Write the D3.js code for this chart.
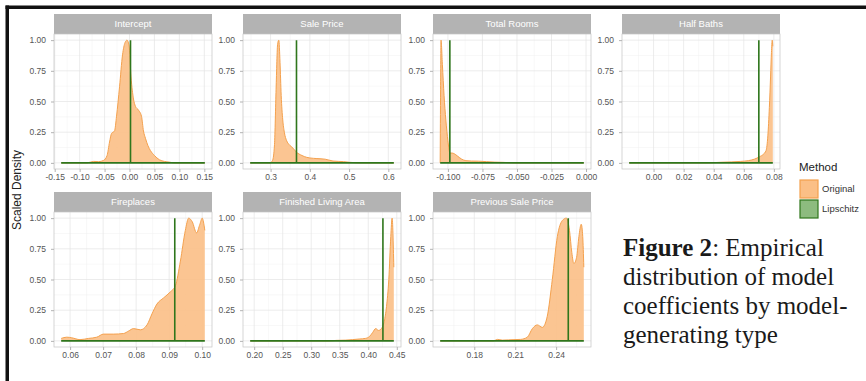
<!DOCTYPE html>
<html>
<head>
<meta charset="utf-8">
<script src="https://cdn.jsdelivr.net/npm/d3@7"></script>
<style>
  body { margin: 0; background: #fff; }
  .sans { font-family: "Liberation Sans", Arial, sans-serif; }
  .serif { font-family: "Liberation Serif", "Times New Roman", serif; }
</style>
</head>
<body>
<svg id="chart" width="866" height="381"></svg>
<script>
// ---- data ----
const panelNames = ["Intercept", "Sale Price", "Total Rooms", "Half Baths",
                    "Fireplaces", "Finished Living Area", "Previous Sale Price"];

// scaled density of the "Original" coefficients, one x/y pair per panel
const interceptX = [-0.137, -0.085, -0.072, -0.062, -0.052, -0.045, -0.040, -0.036, -0.030, -0.026, -0.020, -0.014, -0.009, -0.005, -0.001, 0.003, 0.008, 0.012, 0.018, 0.024, 0.028, 0.032, 0.037, 0.042, 0.050, 0.060, 0.070, 0.080, 0.090, 0.151];
const interceptY = [0, 0, 0.012, 0.01, 0.02, 0.06, 0.17, 0.24, 0.26, 0.38, 0.62, 0.88, 0.98, 1.0, 0.96, 0.7, 0.52, 0.46, 0.43, 0.38, 0.26, 0.2, 0.14, 0.1, 0.06, 0.025, 0.012, 0.006, 0, 0];

const salePriceX = [0.248, 0.298, 0.305, 0.310, 0.314, 0.318, 0.321, 0.324, 0.327, 0.331, 0.335, 0.341, 0.347, 0.357, 0.365, 0.380, 0.392, 0.400, 0.418, 0.439, 0.459, 0.486, 0.500, 0.530, 0.614];
const salePriceY = [0, 0, 0.02, 0.15, 0.6, 0.97, 1.0, 0.82, 0.55, 0.35, 0.25, 0.18, 0.15, 0.12, 0.09, 0.06, 0.045, 0.04, 0.035, 0.03, 0.015, 0.01, 0.005, 0, 0];

const totalRoomsX = [-0.1056, -0.1053, -0.1050, -0.1040, -0.1028, -0.1015, -0.1000, -0.0985, -0.0970, -0.0955, -0.0930, -0.0900, -0.0870, -0.0830, -0.0780, -0.0720, -0.0660, -0.0600, -0.0520, -0.0016];
const totalRoomsY = [0, 0.6, 1.0, 0.8, 0.55, 0.35, 0.18, 0.08, 0.08, 0.075, 0.055, 0.03, 0.018, 0.015, 0.014, 0.01, 0.006, 0.004, 0, 0];

const halfBathsX = [-0.0162, 0.035, 0.045, 0.052, 0.058, 0.063, 0.067, 0.0705, 0.073, 0.0748, 0.076, 0.0770, 0.0778, 0.0784, 0.0789, 0.0793];
const halfBathsY = [0, 0, 0.005, 0.008, 0.012, 0.018, 0.03, 0.05, 0.07, 0.1, 0.22, 0.45, 0.7, 0.9, 1.0, 0.95];

const fireplacesX = [0.0573, 0.059, 0.0605, 0.063, 0.0656, 0.0681, 0.0701, 0.0731, 0.0762, 0.0777, 0.0792, 0.0813, 0.0833, 0.0848, 0.0863, 0.0883, 0.0904, 0.0919, 0.0934, 0.0949, 0.0959, 0.0970, 0.0983, 0.0993, 0.1000, 0.1008];
const fireplacesY = [0.02, 0.03, 0.025, 0.01, 0.02, 0.03, 0.055, 0.055, 0.06, 0.08, 0.1, 0.09, 0.13, 0.22, 0.3, 0.35, 0.4, 0.45, 0.65, 0.9, 1.0, 0.97, 0.88, 0.95, 1.0, 0.9];

const livingAreaX = [0.193, 0.330, 0.345, 0.360, 0.372, 0.384, 0.395, 0.402, 0.408, 0.413, 0.418, 0.423, 0.428, 0.432, 0.436, 0.4395, 0.4418, 0.4448];
const livingAreaY = [0, 0, 0.004, 0.006, 0.01, 0.015, 0.02, 0.035, 0.07, 0.1, 0.085, 0.1, 0.16, 0.28, 0.5, 0.85, 1.0, 0.6];

const prevSaleX = [0.155, 0.194, 0.197, 0.2006, 0.205, 0.2091, 0.214, 0.2189, 0.2226, 0.2262, 0.2299, 0.2335, 0.2372, 0.2409, 0.2445, 0.2475, 0.2498, 0.2515, 0.253, 0.2550, 0.2567, 0.2584, 0.2595, 0.2603];
const prevSaleY = [0, 0, 0.012, 0.006, 0.008, 0.01, 0.012, 0.03, 0.1, 0.13, 0.11, 0.2, 0.5, 0.85, 0.98, 1.0, 0.9, 0.72, 0.63, 0.68, 0.85, 0.95, 0.85, 0.6];

// Lipschitz coefficients are (almost) constant: a single spike per panel
const lipschitzValues = [0.002, 0.366, -0.0986, 0.070, 0.0917, 0.4257, 0.2489];

const xTicks = [
  [-0.15, -0.10, -0.05, 0, 0.05, 0.10, 0.15],
  [0.3, 0.4, 0.5, 0.6],
  [-0.100, -0.075, -0.050, -0.025, 0],
  [0, 0.02, 0.04, 0.06, 0.08],
  [0.06, 0.07, 0.08, 0.09, 0.10],
  [0.20, 0.25, 0.30, 0.35, 0.40, 0.45],
  [0.18, 0.21, 0.24]
];
const xTickFormats = [".2f", ".1f", ".3f", ".2f", ".2f", ".2f", ".2f"];
const yTicks = [0, 0.25, 0.5, 0.75, 1];

const legendLabels = ["Original", "Lipschitz"];
const captionBold = "Figure 2";
const captionLines = [": Empirical", "distribution of model", "coefficients by model-", "generating type"];

// ---- layout ----
const colX = [54, 243, 433, 622];
const rowY = [14, 192];
const pw = 158, ph = 135, stripH = 20;
const ORANGE_FILL = "#fbbf86", ORANGE_LINE = "#f4a14e";
const GREEN_LINE = "#2f761c", GREEN_FILL = "#8dbb7f";

const originalX = [interceptX, salePriceX, totalRoomsX, halfBathsX, fireplacesX, livingAreaX, prevSaleX];
const originalY = [interceptY, salePriceY, totalRoomsY, halfBathsY, fireplacesY, livingAreaY, prevSaleY];

const loc = d3.formatLocale({ decimal: ".", thousands: ",", grouping: [3], currency: ["", ""], minus: "-" });

const svg = d3.select("#chart");

// frame lines of the clipped figure
svg.append("rect").attr("x", 5.5).attr("y", 5.5).attr("width", 866).attr("height", 3.5).attr("fill", "#111");
svg.append("rect").attr("x", 5.5).attr("y", 5.5).attr("width", 3.5).attr("height", 381).attr("fill", "#111");

panelNames.forEach((name, i) => {
  const col = i % 4, row = Math.floor(i / 4);
  const px = colX[col], py = rowY[row] + stripH;
  const xs = originalX[i], ys = originalY[i];
  const lo = d3.min(xs), hi = d3.max(xs), pad = (hi - lo) * 0.05;

  const x = d3.scaleLinear().domain([lo - pad, hi + pad]).range([px, px + pw]);
  const y = d3.scaleLinear().domain([-0.05, 1.05]).range([py + ph, py]);

  const g = svg.append("g");

  // strip
  g.append("rect").attr("x", px).attr("y", rowY[row]).attr("width", pw).attr("height", stripH)
    .attr("fill", "#b3b3b3");
  g.append("text").attr("class", "sans").attr("x", px + pw / 2).attr("y", rowY[row] + stripH / 2).attr("dy", "0.35em")
    .attr("text-anchor", "middle").attr("fill", "#fff").style("font-size", "9.5px").text(name);

  // grid
  const ticks = xTicks[i];
  const step = ticks[1] - ticks[0];
  const minorX = [ticks[0] - step / 2, ...ticks.map(t => t + step / 2)]
    .filter(v => v > x.domain()[0] && v < x.domain()[1]);
  const minorY = [0.125, 0.375, 0.625, 0.875];

  g.selectAll(".mx").data(minorX).join("line")
    .attr("x1", d => x(d)).attr("x2", d => x(d)).attr("y1", py).attr("y2", py + ph)
    .attr("stroke", "#f1f1f1").attr("stroke-width", 0.5);
  g.selectAll(".my").data(minorY).join("line")
    .attr("x1", px).attr("x2", px + pw).attr("y1", d => y(d)).attr("y2", d => y(d))
    .attr("stroke", "#f1f1f1").attr("stroke-width", 0.5);
  g.selectAll(".gx").data(ticks).join("line")
    .attr("x1", d => x(d)).attr("x2", d => x(d)).attr("y1", py).attr("y2", py + ph)
    .attr("stroke", "#e4e4e4").attr("stroke-width", 0.7);
  g.selectAll(".gy").data(yTicks).join("line")
    .attr("x1", px).attr("x2", px + pw).attr("y1", d => y(d)).attr("y2", d => y(d))
    .attr("stroke", "#e4e4e4").attr("stroke-width", 0.7);

  // original density
  const pts = xs.map((v, k) => [v, ys[k]]);
  g.append("path").datum(pts)
    .attr("fill", ORANGE_FILL).attr("fill-opacity", 0.9)
    .attr("d", d3.area().x(d => x(d[0])).y0(y(0)).y1(d => y(d[1])).curve(d3.curveMonotoneX));
  g.append("path").datum(pts)
    .attr("fill", "none").attr("stroke", ORANGE_LINE).attr("stroke-width", 1)
    .attr("d", d3.line().x(d => x(d[0])).y(d => y(d[1])).curve(d3.curveMonotoneX));

  // lipschitz spike
  const v = lipschitzValues[i];
  const spike = [[lo, 0], [v, 0], [v, 1], [v, 0], [hi, 0]];
  g.append("path").datum(spike)
    .attr("fill", "none").attr("stroke", GREEN_LINE).attr("stroke-width", 1.6)
    .attr("d", d3.line().x(d => x(d[0])).y(d => y(d[1])));

  // border
  g.append("rect").attr("x", px).attr("y", py).attr("width", pw).attr("height", ph)
    .attr("fill", "none").attr("stroke", "#c4c4c4").attr("stroke-width", 0.7);

  // axes
  const fmt = loc.format(xTickFormats[i]);
  const ax = g.append("g").attr("transform", `translate(0,${py + ph})`)
    .call(d3.axisBottom(x).tickValues(ticks).tickFormat(fmt).tickSize(3).tickPadding(1.5));
  const ay = g.append("g").attr("transform", `translate(${px},0)`)
    .call(d3.axisLeft(y).tickValues(yTicks).tickFormat(d3.format(".2f")).tickSize(3).tickPadding(5));
  [ax, ay].forEach(a => {
    a.attr("font-family", null).attr("font-size", null);
    a.select(".domain").remove();
    a.selectAll(".tick line").attr("stroke", "#b3b3b3");
    a.selectAll(".tick text").attr("class", "sans").attr("fill", "#555").style("font-size", "8.5px");
  });
});

// y axis title
svg.append("text").attr("class", "sans").attr("transform", "translate(21,190) rotate(-90)")
  .attr("text-anchor", "middle").attr("fill", "#222").style("font-size", "12px").text("Scaled Density");

// legend
const lg = svg.append("g");
lg.append("text").attr("class", "sans").attr("x", 799).attr("y", 171).attr("fill", "#222")
  .style("font-size", "11.5px").text("Method");
const keyFill = [ORANGE_FILL, GREEN_FILL], keyLine = [ORANGE_LINE, GREEN_LINE];
legendLabels.forEach((lab, k) => {
  lg.append("rect").attr("x", 800).attr("y", 180 + k * 20).attr("width", 18).attr("height", 18)
    .attr("fill", keyFill[k]).attr("stroke", keyLine[k]).attr("stroke-width", 1.2);
  lg.append("text").attr("class", "sans").attr("x", 822).attr("y", 189 + k * 20).attr("dy", "0.35em")
    .attr("fill", "#333").style("font-size", "9.5px").text(lab);
});

// caption
captionLines.forEach((line, k) => {
  const t = svg.append("text").attr("class", "serif").attr("x", 623).attr("y", 256 + k * 29)
    .attr("fill", "#1a1a1a").style("font-size", "25px");
  if (k === 0) t.append("tspan").attr("font-weight", "bold").text(captionBold);
  t.append("tspan").text(line);
});
</script>
</body>
</html>
